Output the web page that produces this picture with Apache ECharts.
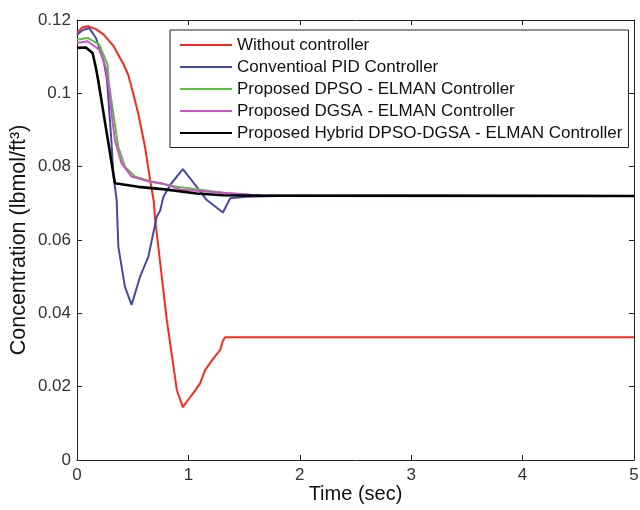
<!DOCTYPE html>
<html>
<head>
<meta charset="utf-8">
<script src="https://cdn.jsdelivr.net/npm/echarts@6/dist/echarts.min.js"></script>
<style>
  html, body { margin: 0; padding: 0; background: #fff; }
  #chart { width: 640px; height: 510px; }
</style>
</head>
<body>
<div id="chart"></div>
<script>
// ---- Data ----
const seriesNames = [
  'Without controller',
  'Conventioal PID Controller',
  'Proposed DPSO - ELMAN Controller',
  'Proposed DGSA - ELMAN Controller',
  'Proposed Hybrid DPSO-DGSA - ELMAN Controller'
];

const redT = [0, 0.05, 0.1, 0.17, 0.24, 0.33, 0.42, 0.46, 0.5, 0.55, 0.61, 0.656, 0.69, 0.7, 0.806, 0.896, 0.95, 1.0, 1.05, 1.105, 1.15, 1.22, 1.285, 1.31, 1.33, 5];
const redV = [0.1165, 0.118, 0.1183, 0.1175, 0.116, 0.1128, 0.1078, 0.105, 0.1005, 0.0945, 0.0855, 0.0764, 0.0705, 0.066, 0.0382, 0.0191, 0.0144, 0.0165, 0.0185, 0.0209, 0.0245, 0.0275, 0.030, 0.0325, 0.0335, 0.0335];

const blueT = [0, 0.05, 0.11, 0.17, 0.24, 0.27, 0.31, 0.326, 0.356, 0.371, 0.43, 0.49, 0.566, 0.64, 0.716, 0.746, 0.776, 0.836, 0.95, 1.075, 1.165, 1.31, 1.375, 1.52, 1.8, 5];
const blueV = [0.116, 0.1172, 0.1178, 0.1151, 0.1087, 0.1036, 0.0864, 0.078, 0.0709, 0.0582, 0.0473, 0.0423, 0.050, 0.0554, 0.0664, 0.068, 0.0718, 0.075, 0.0793, 0.0745, 0.0709, 0.0675, 0.0714, 0.0718, 0.072, 0.072];

const greenT = [0, 0.095, 0.2, 0.275, 0.285, 0.326, 0.37, 0.43, 0.52, 0.67, 0.9, 1.31, 1.6, 5];
const greenV = [0.1146, 0.1151, 0.1133, 0.1078, 0.103, 0.0945, 0.0855, 0.080, 0.0773, 0.0759, 0.0745, 0.0729, 0.0722, 0.072];

const magentaT = [0, 0.095, 0.2, 0.26, 0.29, 0.31, 0.34, 0.40, 0.49, 0.64, 0.76, 0.925, 1.31, 1.6, 5];
const magentaV = [0.1137, 0.1142, 0.1119, 0.1069, 0.101, 0.0945, 0.0873, 0.0809, 0.0773, 0.076, 0.0755, 0.0738, 0.0729, 0.0722, 0.072];

const blackT = [0, 0.08, 0.14, 0.17, 0.19, 0.34, 0.55, 0.79, 1.075, 1.31, 1.64, 5];
const blackV = [0.1124, 0.1125, 0.111, 0.1069, 0.1036, 0.0755, 0.0745, 0.0738, 0.0727, 0.0722, 0.0721, 0.072];

const xTicks = [0, 1, 2, 3, 4, 5];
const yTicks = [0, 0.02, 0.04, 0.06, 0.08, 0.1, 0.12];

// ---- Chart ----
const zip = (t, v) => t.map((x, i) => [x, v[i]]);
const FONT = 'Liberation Sans, Arial, sans-serif';
const colors = ['#f72a1c', '#4749a6', '#5cc23e', '#cf52c8', '#000000'];
const widths = [2, 2, 2, 2, 2.6];
const allData = [zip(redT, redV), zip(blueT, blueV), zip(greenT, greenV), zip(magentaT, magentaV), zip(blackT, blackV)];

const chart = echarts.init(document.getElementById('chart'), null, { renderer: 'canvas' });

const axisCommon = {
  type: 'value',
  axisLine: { show: true, onZero: false, lineStyle: { color: '#222', width: 1 } },
  axisTick: { show: true, inside: true, length: 5, lineStyle: { color: '#222' } },
  splitLine: { show: false }
};

chart.setOption({
  animation: false,
  backgroundColor: '#fff',
  color: colors,
  grid: { left: 77, right: 6, top: 20, bottom: 50, containLabel: false, outerBoundsMode: 'none' },
  legend: {
    show: true,
    orient: 'vertical',
    left: 170,
    top: 30,
    backgroundColor: '#fff',
    borderColor: '#222',
    borderWidth: 1,
    borderRadius: 0,
    padding: [6.5, 6, 6, 10],
    icon: 'rect',
    itemWidth: 52,
    itemHeight: 2,
    itemGap: 5,
    data: seriesNames,
    textStyle: { fontFamily: FONT, fontSize: 17, color: '#111' }
  },
  xAxis: [
    Object.assign({}, axisCommon, {
      min: 0, max: 5, interval: 1,
      position: 'bottom',
      name: 'Time (sec)',
      nameLocation: 'middle',
      nameGap: 24,
      nameMoveOverlap: false,
      nameTextStyle: { fontFamily: FONT, fontSize: 20, color: '#111' },
      axisLabel: { fontFamily: FONT, fontSize: 17, color: '#333', margin: 7,
        formatter: v => xTicks.includes(v) ? String(v) : '' }
    }),
    Object.assign({}, axisCommon, {
      min: 0, max: 5, interval: 1,
      position: 'top',
      axisLabel: { show: false }
    })
  ],
  yAxis: [
    Object.assign({}, axisCommon, {
      min: 0, max: 0.12, interval: 0.02,
      position: 'left',
      name: 'Concentration (lbmol/ft³)',
      nameLocation: 'middle',
      nameGap: 47,
      nameMoveOverlap: false,
      nameTextStyle: { fontFamily: FONT, fontSize: 21.5, color: '#111' },
      axisLabel: { fontFamily: FONT, fontSize: 17, color: '#333', margin: 6,
        formatter: v => {
          const m = yTicks.find(t => Math.abs(t - v) < 1e-9);
          return m === undefined ? '' : (m === 0 ? '0' : String(+m.toFixed(2)));
        } }
    }),
    Object.assign({}, axisCommon, {
      min: 0, max: 0.12, interval: 0.02,
      position: 'right',
      axisLabel: { show: false }
    })
  ],
  series: seriesNames.map((name, i) => ({
    name: name,
    type: 'line',
    data: allData[i],
    xAxisIndex: 0,
    yAxisIndex: 0,
    symbol: 'none',
    smooth: false,
    clip: true,
    lineStyle: { color: colors[i], width: widths[i] },
    itemStyle: { color: colors[i] },
    z: 2 + i
  }))
});
</script>
</body>
</html>
